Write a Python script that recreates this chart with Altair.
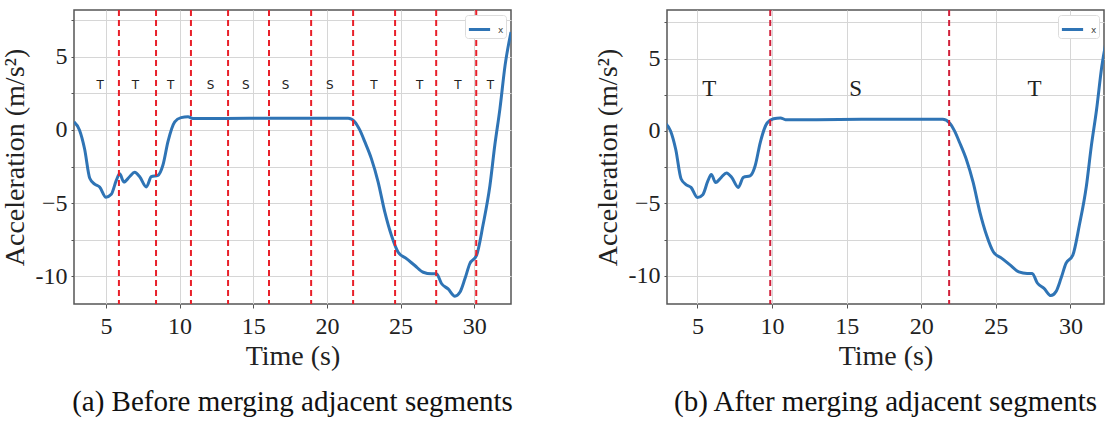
import altair as alt
import pandas as pd

# ---- data ----
time_s = [2.83, 3.2, 3.55, 3.9, 4.23, 4.57, 5.0, 5.36, 5.7, 5.93, 6.22, 6.6, 6.95, 7.29,
          7.74, 8.08, 8.53, 8.87, 9.21, 9.67, 10.1, 10.57, 10.9, 13.0, 16.0, 19.0, 21.44,
          21.9, 22.23, 22.57, 23.02, 23.48, 23.93, 24.38, 24.84, 25.4, 25.97, 26.54, 27.1,
          27.44, 27.78, 28.23, 28.69, 29.03, 29.37, 29.7, 30.16, 30.6, 31.07, 31.4, 31.75,
          32.1, 32.5]
accel = [0.55, 0.0, -1.3, -3.3, -3.7, -3.9, -4.6, -4.4, -3.45, -3.0, -3.56, -3.2, -2.9, -3.2,
         -3.9, -3.2, -3.1, -2.4, -0.8, 0.55, 0.84, 0.9, 0.78, 0.78, 0.8, 0.8, 0.8,
         0.55, 0.0, -0.8, -1.96, -3.56, -5.6, -7.2, -8.36, -8.8, -9.27, -9.73, -9.84,
         -9.84, -10.5, -10.87, -11.37, -11.1, -10.18, -9.15, -8.58, -6.5, -3.8, -1.05, 1.46,
         4.43, 6.7]

bounds_a = [5.88, 8.40, 10.77, 13.29, 16.07, 18.93, 21.78, 24.63, 27.42, 30.14]
label_x_a = [4.6, 7.0, 9.4, 12.1, 14.5, 17.2, 20.2, 23.2, 26.3, 28.9, 31.1]
label_t_a = ["T", "T", "T", "S", "S", "S", "S", "T", "T", "T", "T"]
label_y_a = 3.08

bounds_b = [9.88, 21.87]
label_x_b = [5.8, 15.6, 27.6]
label_t_b = ["T", "S", "T"]
label_y_b = 2.9

x_ticks = [5, 10, 15, 20, 25, 30]
y_grid = [-10, -7.5, -5, -2.5, 0, 2.5, 5, 7.5]

curve = pd.DataFrame({"t": time_s, "a": accel, "series": ["x"] * len(time_s)})

SERIF = "Liberation Serif"
BLUE = "#2f74b5"
W, H = 437, 294


def panel(xdom, ydom, bounds, lx, lt, ly, caption, lab_font, lab_size, red, dash, rw):
    xs = alt.Scale(domain=xdom, nice=False, zero=False)
    ys = alt.Scale(domain=ydom, nice=False, zero=False)
    xax = alt.Axis(values=x_ticks, title="Time (s)", grid=True, tickSize=4,
                   labelPadding=6, titlePadding=4)
    yax = alt.Axis(values=y_grid, title="Acceleration (m/s²)", grid=True, tickSize=3,
                   labelPadding=4, titlePadding=6,
                   labelExpr="datum.value == -10 ? '-10' : (datum.value == -5 ? '−5' : "
                             "((datum.value % 5) == 0 ? datum.label : ''))")
    line = alt.Chart(curve).mark_line(strokeWidth=3, interpolate="monotone", clip=True).encode(
        x=alt.X("t:Q", scale=xs, axis=xax),
        y=alt.Y("a:Q", scale=ys, axis=yax),
        color=alt.Color("series:N", scale=alt.Scale(range=[BLUE]),
                        legend=alt.Legend(title=None, orient="top-right", offset=5,
                                          fillColor="white", strokeColor="#dcdcdc",
                                          cornerRadius=3, padding=2,
                                          labelFont="DejaVu Sans", labelFontSize=9,
                                          labelColor="#444", labelOffset=6,
                                          symbolType="stroke", symbolStrokeWidth=3,
                                          symbolSize=450)),
    )
    rules = alt.Chart(pd.DataFrame({"b": bounds})).mark_rule(
        color=red, strokeDash=dash, strokeWidth=rw).encode(x=alt.X("b:Q", scale=xs))
    texts = alt.Chart(pd.DataFrame({"x": lx, "t": lt, "y": [ly] * len(lx)})).mark_text(
        font=lab_font, fontSize=lab_size, color="#222", baseline="middle").encode(
        x=alt.X("x:Q", scale=xs), y=alt.Y("y:Q", scale=ys), text="t:N")
    return alt.layer(line, rules, texts).properties(
        width=W, height=H,
        title=alt.TitleParams(caption, orient="bottom", font=SERIF, fontSize=29,
                              fontWeight="normal", color="#111", offset=18, anchor="middle"),
    )


pa = panel([2.83, 32.5], [-11.9, 8.2], bounds_a, label_x_a, label_t_a, label_y_a,
           "(a) Before merging adjacent segments", "DejaVu Sans", 12, "#e8202a", [6, 4], 2)
pb = panel([2.96, 32.25], [-11.95, 8.35], bounds_b, label_x_b, label_t_b, label_y_b,
           "(b) After merging adjacent segments", SERIF, 23, "#d0203a", [6, 4], 2)

chart = alt.hconcat(pa, pb, spacing=79).resolve_scale(color="independent").resolve_legend(
    color="independent"
).configure_view(stroke="#555", strokeWidth=1.5).configure_axis(
    labelFont=SERIF, labelFontSize=24, labelColor="#222",
    titleFont=SERIF, titleFontSize=28, titleFontWeight="normal", titleColor="#222",
    gridColor="#d6d6d6", gridWidth=1, domain=False, tickColor="#555",
).properties(padding={"left": 0, "top": 8, "right": 0, "bottom": 0}, background="white")

chart.save("out.html", embed_options={"renderer": "svg", "actions": False})
